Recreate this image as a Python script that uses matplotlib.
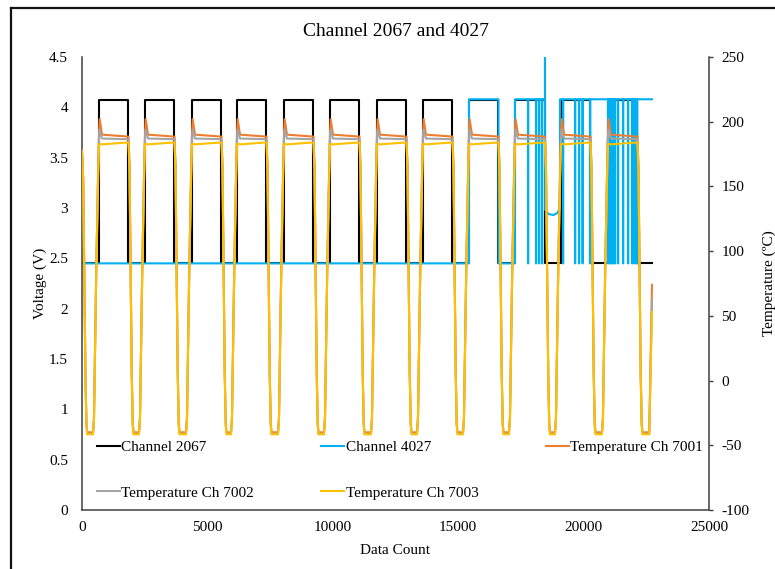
import matplotlib
matplotlib.use('Agg')
import matplotlib.pyplot as plt
from matplotlib.lines import Line2D
from matplotlib.ticker import FuncFormatter, MultipleLocator

plt.rcParams['font.family'] = ['Liberation Serif', 'DejaVu Serif']
plt.rcParams['font.size'] = 11

# Channel 2067: data count where the square wave goes high / low
rise_2067 = [678, 2512, 4386, 6180, 8054, 9888, 11762, 13596, 15430, 17264, 19098, 20971]
fall_2067 = [1854, 3688, 5562, 7356, 9230, 11064, 12938, 14772, 16606, 18460, 20274, 22147]
v_high_2067 = 4.07
v_low = 2.45
x_end = 22727

# Channel 4027
high_start_4027 = [15430, 17264, 19058]
high_end_4027 = [16606, 18460, 22727]
v_high_4027 = 4.08
drop_4027 = [17782, 18101, 18221, 18340, 19177, 19656, 19815, 19955, 20254,
             20971, 21031, 21091, 21130, 21190, 21250, 21370, 21570, 21769,
             21929, 22009, 22088, 22128]
peak_4027 = 4.5
dip_x_4027 = [18480, 18600, 18800, 18950, 19040]
dip_v_4027 = [2.98, 2.94, 2.93, 2.95, 2.99]

# Temperatures (right axis): 7001, 7002, 7003
temp_names = ['Temperature Ch 7001', 'Temperature Ch 7002', 'Temperature Ch 7003']
temp_colors = ['#ED7D31', '#A5A5A5', '#FFC000']
temp_start = [178, 177, 177]
temp_peak = [202, 194, 183]
temp_hot = [190, 187, 182.5]
temp_hot_end = [188.5, 186.5, 184]
temp_cold = [-40, -41, -41.5]
temp_end = [74, 62, 53]
# cool-down shape: counts after the fall of Channel 2067, fraction of hot level
fall_dt = [0, 40, 130, 170, 200]
fall_frac = [1.0, 0.9, 0.2, 0.03, 0.0]
# warm-up shape: counts before the next rise of Channel 2067
rise_dt = [240, 200, 110, 30, 0]
rise_frac = [0.0, 0.05, 0.55, 0.9, 1.0]


def square(rises, falls, hi, lo):
    xs, ys = [0], [lo]
    for r, f in zip(rises, falls):
        xs += [r, r, f, f]
        ys += [lo, hi, hi, lo]
    xs.append(x_end)
    ys.append(lo)
    return xs, ys


x2067, y2067 = square(rise_2067, fall_2067, v_high_2067, v_low)

# Channel 4027 path
x4027, y4027 = [0, high_start_4027[0], high_start_4027[0]], [v_low, v_low, v_high_4027]
for i, (s, e) in enumerate(zip(high_start_4027, high_end_4027)):
    if i > 0:
        x4027 += [s, s]
        y4027 += [y4027[-1], v_high_4027]
    for d in drop_4027:
        if s < d < e:
            x4027 += [d, d, d + 12, d + 12]
            y4027 += [v_high_4027, v_low, v_low, v_high_4027]
    x4027.append(e)
    y4027.append(v_high_4027)
    if i == 0:
        x4027 += [e, high_start_4027[1]]
        y4027 += [v_low, v_low]
    elif i == 1:
        x4027 += [e, e + 8]
        y4027 += [peak_4027, dip_v_4027[0]]
        x4027 += dip_x_4027
        y4027 += dip_v_4027


def temperature(j):
    cold, hot, hot_end = temp_cold[j], temp_hot[j], temp_hot_end[j]
    xs, ys = [0], [temp_start[j]]
    prev_fall = rise_2067[0] - 670
    for k, (r, f) in enumerate(zip(rise_2067, fall_2067)):
        for dt, fr in zip(fall_dt[1:], fall_frac[1:]):
            xs.append(prev_fall + dt)
            ys.append(cold + fr * (temp_start[j] - cold) if k == 0 else cold + fr * (hot_end - cold))
        for dt, fr in zip(rise_dt, rise_frac):
            xs.append(r - dt)
            ys.append(cold + fr * (hot - cold))
        xs += [r + 25, r + 120, f]
        ys += [temp_peak[j], hot, hot_end]
        prev_fall = f
    for dt, fr in zip(fall_dt[1:], fall_frac[1:]):
        xs.append(prev_fall + dt)
        ys.append(cold + fr * (hot_end - cold))
    xs += [x_end - 110, x_end]
    ys += [cold, temp_end[j]]
    return xs, ys


fig = plt.figure(figsize=(7.75, 5.69), dpi=100)
ax1 = fig.add_axes([82 / 775, 59 / 569, 627 / 775, 453 / 569])
ax2 = ax1.twinx()

h1, = ax1.plot(x2067, y2067, color='#000000', lw=1.5, label='Channel 2067')
h2, = ax1.plot(x4027, y4027, color='#00B0F0', lw=1.5, label='Channel 4027')
th = []
for j in range(3):
    xs, ys = temperature(j)
    h, = ax2.plot(xs, ys, color=temp_colors[j], lw=1.5, label=temp_names[j])
    th.append(h)

ax1.set_xlim(0, 25000)
ax1.set_ylim(0, 4.5)
ax2.set_ylim(-100, 250)
ax1.xaxis.set_major_locator(MultipleLocator(5000))
ax1.yaxis.set_major_locator(MultipleLocator(0.5))
ax2.yaxis.set_major_locator(MultipleLocator(50))
ax1.yaxis.set_major_formatter(FuncFormatter(lambda v, p: ('%g' % v)))
ax2.yaxis.set_major_formatter(FuncFormatter(lambda v, p: ('%d' % v)))

for a in (ax1, ax2):
    for s in a.spines.values():
        s.set_color('#404040')
        s.set_linewidth(1.1)
    a.spines['top'].set_visible(False)
ax1.spines['right'].set_visible(False)
ax2.spines['left'].set_visible(False)
ax2.spines['bottom'].set_visible(False)

ax1.tick_params(axis='y', length=0, pad=10, labelsize=11)
ax1.tick_params(axis='x', length=0, pad=8, labelsize=11)
ax2.tick_params(axis='y', length=3, width=1, color='#404040', pad=6, labelsize=11)

ax1.set_xlabel('Data Count', fontsize=11)
ax1.set_ylabel('Voltage (V)', fontsize=11)
ax2.set_ylabel('Temperature (ºC)', fontsize=11)
ax1.xaxis.set_label_coords(0.5, -0.075)
ax1.yaxis.set_label_coords(-0.0558, 0.5)
ax2.yaxis.set_label_coords(1.0855, 0.5)

fig.text(395.5 / 775, 1 - 31 / 569, 'Channel 2067 and 4027', ha='center', va='center', fontsize=14)

# legend: Excel order row by row, matplotlib fills column by column
fig.legend([h1, th[1], h2, th[2], th[0]],
           ['Channel 2067', 'Temperature Ch 7002', 'Channel 4027', 'Temperature Ch 7003', 'Temperature Ch 7001'],
           ncol=3, loc='center left', bbox_to_anchor=(97 / 775, 1 - 470 / 569),
           frameon=False, fontsize=11, handlelength=1.5, handletextpad=0.1,
           labelspacing=2.1, columnspacing=4.4, borderpad=0, borderaxespad=0)

# outer frame (left and top edges visible in the original)
fig.add_artist(Line2D([11 / 775, 11 / 775], [0, 1 - 8 / 569], transform=fig.transFigure, color='#111111', lw=1.6))
fig.add_artist(Line2D([11 / 775, 1], [1 - 8 / 569, 1 - 8 / 569], transform=fig.transFigure, color='#111111', lw=1.6))

fig.savefig('out.png', dpi=100)
